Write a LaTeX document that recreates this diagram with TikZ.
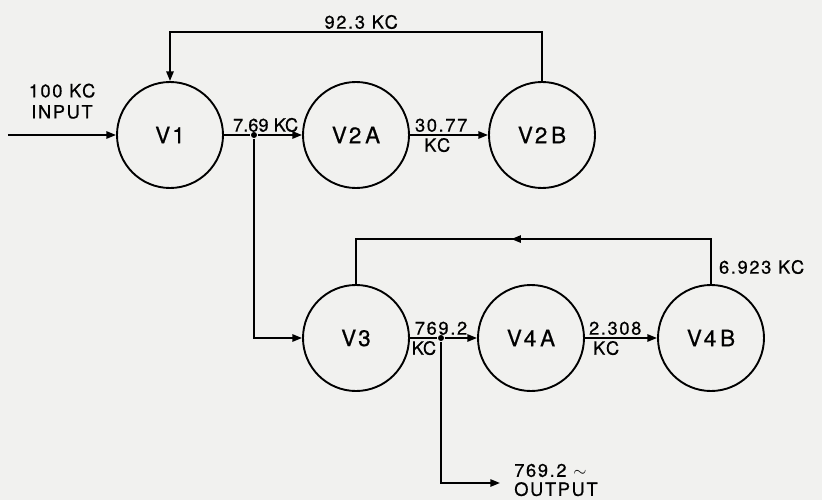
\documentclass[tikz,border=0pt]{standalone}
\usepackage{fontspec}
\setmainfont{TeX Gyre Heros}[LetterSpace=9, FakeBold=0.6]
\usepackage{amsmath}
\usetikzlibrary{arrows.meta,decorations.markings}
\definecolor{paper}{RGB}{241,241,239}

\begin{document}
\begin{tikzpicture}
    [x=1cm, y=1cm,
    ->-/.style={decoration={markings, mark=at position 0.55 with {\arrow{Triangle[length=2.4mm, width=1.8mm]}}},postaction={decorate}},
    arr/.style={-{Triangle[length=2.4mm, width=1.8mm]}},
    line width=1.35pt,
    node distance =4.65cm,
    stage/.style={circle, draw, minimum size=2.65cm, inner sep=0pt, font=\fontsize{16}{18}\selectfont},
    lbl/.style={inner sep=1.5pt, font=\fontsize{13}{15}\selectfont},
    tight/.style={lbl, font=\fontsize{13}{15}\selectfont\addfontfeature{LetterSpace=0}},
    dot/.style={inner sep=0pt, circle, fill=black, minimum size=1.5mm}]
    \fill[paper] (0,0) rectangle (20.55,-12.5);
    \useasboundingbox (0,0) rectangle (20.55,-12.5);
        %% upper row
    \node[stage] (V1) at (4.25,-3.375) {V1};
        \node[stage, right of = V1] (V2A) {V2\,A};
        \node[stage, right of = V2A] (V2B) {V2\,B};
        \node[dot, right of = V1, node distance=2.1cm] (d1) {};
        \coordinate (in) at (0.2,-3.375);

        \draw[arr] (in) to (V1);
        \draw (V1) to (d1);
        \draw[arr] (d1) to (V2A);
        \draw[arr] (V2A) to (V2B);
        \draw[arr] (V2B.north) -- ++(0,1.225) -| (V1.north);

    \node[lbl, align=center] (inlbl) at (1.55,-2.53) {100 KC\\INPUT};
    \node[lbl] (topfb) at (9.03,-0.55) {92.3 KC};
    \node[tight, anchor=south west] (f1) at (5.75,-3.375) {7.69 KC};
    \node[lbl, anchor=south] (f2) at (11.03,-3.375) {30.77};
    \node[lbl, anchor=north] (f2b) at (10.93,-3.375) {KC};

        %% lower row
    \node[stage, below of = V2A, node distance=5.075cm] (V3) {V3};
        \node[stage, right of = V3, node distance=4.375cm] (V4A) {V4\,A};
        \node[stage, right of = V4A, node distance=4.5cm] (V4B) {V4\,B};
        \node[dot, right of = V3, node distance=2.125cm] (d2) {};
        \coordinate (out) at (12.5,-12.075);

        \draw[arr] (d1) |- (V3);
        \draw (V3) to (d2);
        \draw[arr] (d2) to (V4A);
        \draw[arr] (V4A) to (V4B);
        \draw[->-] (V4B.north) -- ++(0,1.125) -| (V3.north);
        \draw[arr] (d2) |- (out);

    \node[lbl, anchor=south] (f3) at (d2) {769.2};
    \node[tight, anchor=north east] (f3b) at (10.98,-8.45) {KC};
    \node[lbl, anchor=south] (f4) at (15.38,-8.45) {2.308};
    \node[lbl, anchor=north west] (f4b) at (14.75,-8.45) {KC};
    \node[lbl, anchor=west] (botfb) at (17.9,-6.675) {6.923 KC};
    \node[lbl, anchor=west, align=left, font=\fontsize{13}{13.5}\selectfont] (outlbl) at (12.78,-12.0) {769.2 $\sim$\\OUTPUT};
    \end{tikzpicture}
\end{document}
